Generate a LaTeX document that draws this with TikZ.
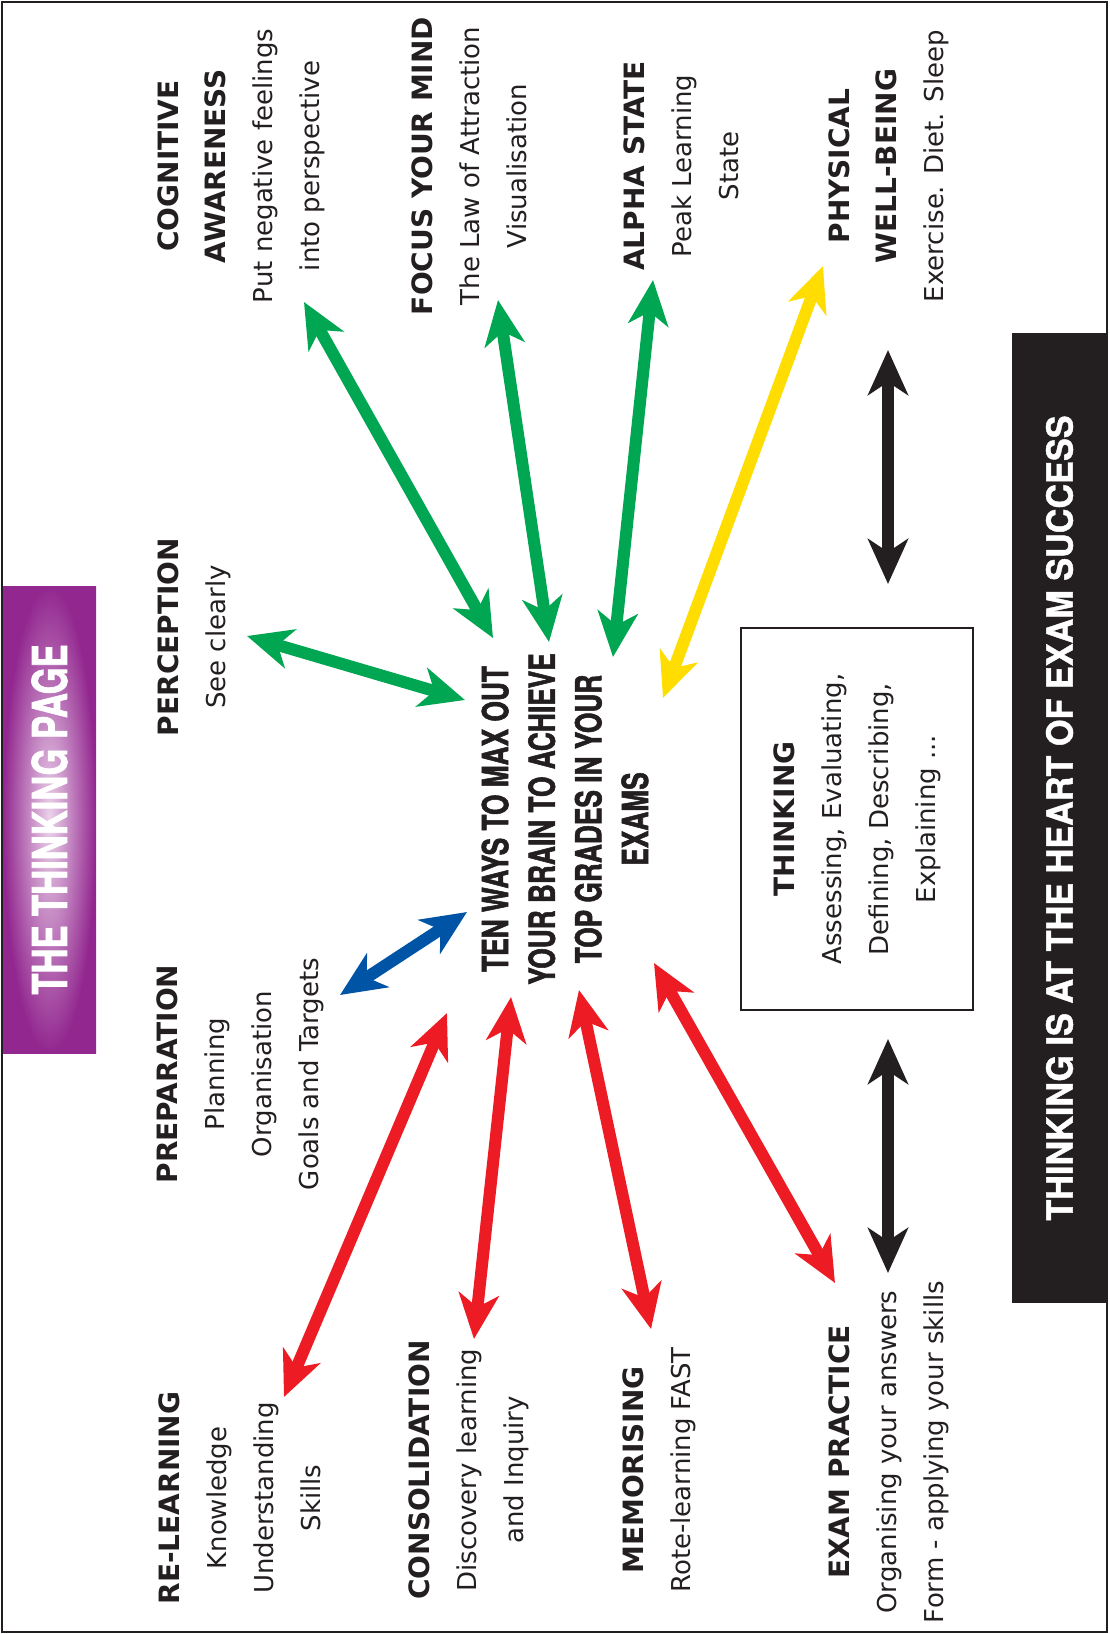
\documentclass[tikz,border=0pt]{standalone}
\usepackage{fontspec}
\setmainfont{DejaVu Sans}
\newfontfamily\hubfont[FakeStretch=0.73,FakeBold=1.5]{TeX Gyre Heros}
\newfontfamily\bannerfont[FakeStretch=0.95,FakeBold=1.2]{TeX Gyre Heros}
\newfontfamily\titlefont[FakeStretch=0.72,FakeBold=1.5]{TeX Gyre Heros}
\usetikzlibrary{arrows.meta}
\usepackage{xcolor}
\definecolor{tgreen}{HTML}{00A651}
\definecolor{tred}{HTML}{ED1C24}
\definecolor{tblue}{HTML}{0054A6}
\definecolor{tyellow}{HTML}{FFDD00}
\definecolor{tblack}{HTML}{231F20}
\definecolor{tpurple}{HTML}{92278F}
\definecolor{tpink}{HTML}{EBD3EA}
\newcommand{\hd}[1]{{\fontsize{28}{47}\selectfont\bfseries #1}}
\tikzstyle{topic} = [rotate=90, align=center, inner sep=0pt, text=tblack, font=\fontsize{26}{47}\selectfont]
\tikzstyle{twoway} = [line width=12pt, {Stealth[length=45pt,width=40pt,inset=13pt]}-{Stealth[length=45pt,width=40pt,inset=13pt]}]

\begin{document}
\begin{tikzpicture}[
            x=1pt, y=-1pt,
            hub/.style={rotate=90, align=center, inner sep=0pt, text=tblack, font=\hubfont\bfseries\fontsize{36}{46.6}\selectfont},
            thinkbox/.style={rotate=90, align=center, draw=tblack, line width=2pt, minimum width=382pt, minimum height=232pt, text=tblack, font=\fontsize{26}{47}\selectfont},
            banner/.style={rotate=90, fill=tblack, text=white, minimum width=970pt, minimum height=95pt, font=\bannerfont\bfseries\fontsize{36}{40}\selectfont},
            titlebox/.style={rotate=90, shade, inner color=tpink, outer color=tpurple, text=white, minimum width=467pt, minimum height=93pt, font=\titlefont\bfseries\fontsize{48}{50}\selectfont}
        ]
            \useasboundingbox (0,0) rectangle (1109,1634);
            \draw [line width=2.5pt, tblack] (2,2) rectangle (1107,1632);

            % Nodes
            \node (title) [titlebox] at (49.5,819.5) {THE THINKING PAGE};
            \node (heart) [banner] at (1059.5,818) {THINKING IS AT THE HEART OF EXAM SUCCESS};
            \node (centre) [hub] at (565,819) {TEN WAYS TO MAX OUT\\YOUR BRAIN TO ACHIEVE\\TOP GRADES IN YOUR\\EXAMS};
            \node (thinking) [thinkbox] at (857,819) {\hd{THINKING}\\Assessing, Evaluating,\\Defining, Describing,\\Explaining ...};

            \node (cognitive) [topic] at (241,166) {\hd{COGNITIVE}\\\hd{AWARENESS}\\Put negative feelings\\into perspective};
            \node (focus) [topic] at (469,166) {\hd{FOCUS YOUR MIND}\\The Law of Attraction\\Visualisation};
            \node (alpha) [topic] at (681,166) {\hd{ALPHA STATE}\\Peak Learning\\State};
            \node (physical) [topic] at (889,166) {\hd{PHYSICAL}\\\hd{WELL-BEING}\\Exercise. Diet. Sleep};
            \node (perception) [topic] at (194,637) {\hd{PERCEPTION}\\See clearly};
            \node (preparation) [topic] at (240,1074) {\hd{PREPARATION}\\Planning\\Organisation\\Goals and Targets};
            \node (relearning) [topic] at (240,1498) {\hd{RE-LEARNING}\\Knowledge\\Understanding\\Skills};
            \node (consolidation) [topic] at (469,1470) {\hd{CONSOLIDATION}\\Discovery learning\\and Inquiry};
            \node (memorising) [topic] at (659,1470) {\hd{MEMORISING}\\Rote-learning FAST};
            \node (exam) [topic] at (889,1452) {\hd{EXAM PRACTICE}\\Organising your answers\\Form - applying your skills};

            % Arrow ends
            \coordinate (cogOut) at (304,302);   \coordinate (cogIn) at (493,638);
            \coordinate (focOut) at (498,300);   \coordinate (focIn) at (549,642);
            \coordinate (alpOut) at (653,280);   \coordinate (alpIn) at (613,657);
            \coordinate (phyOut) at (823,266);   \coordinate (phyIn) at (663,698);
            \coordinate (perOut) at (247,636);   \coordinate (perIn) at (465,700);
            \coordinate (preOut) at (340,995);   \coordinate (preIn) at (467,912);
            \coordinate (relOut) at (284,1397);  \coordinate (relIn) at (447,1013);
            \coordinate (conOut) at (474,1339);  \coordinate (conIn) at (511,997);
            \coordinate (memOut) at (651,1329);  \coordinate (memIn) at (579,990);
            \coordinate (exaOut) at (835,1283);  \coordinate (exaIn) at (654,963);
            \coordinate (upTop) at (888,350);    \coordinate (upBot) at (888,584);
            \coordinate (lowTop) at (888,1039);  \coordinate (lowBot) at (888,1273);

            % Arrows
            \draw [twoway, tgreen] (cogIn) -- (cogOut);
            \draw [twoway, tgreen] (focIn) -- (focOut);
            \draw [twoway, tgreen] (alpIn) -- (alpOut);
            \draw [twoway, tyellow] (phyIn) -- (phyOut);
            \draw [twoway, tgreen] (perIn) -- (perOut);
            \draw [twoway, tblue] (preIn) -- (preOut);
            \draw [twoway, tred] (relIn) -- (relOut);
            \draw [twoway, tred] (conIn) -- (conOut);
            \draw [twoway, tred] (memIn) -- (memOut);
            \draw [twoway, tred] (exaIn) -- (exaOut);
            \draw [twoway, tblack] (upTop) -- (upBot);
            \draw [twoway, tblack] (lowTop) -- (lowBot);
        \end{tikzpicture}
\end{document}
